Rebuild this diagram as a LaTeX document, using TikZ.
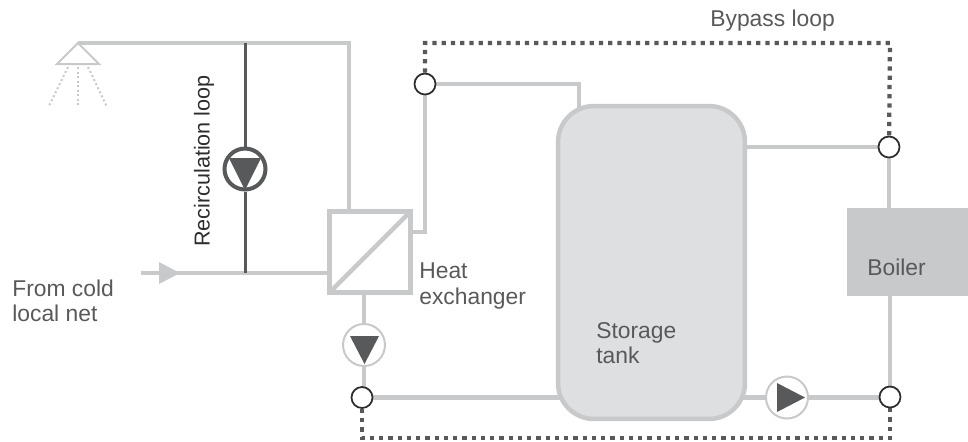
\documentclass[tikz,border=0pt]{standalone}
\usepackage{xcolor}
\usepackage{fontspec}
\setmainfont{Liberation Sans}
\definecolor{pipecolor}{RGB}{200, 201, 203}
\definecolor{darkcolor}{RGB}{88, 89, 91}
\definecolor{tankcolor}{RGB}{222, 223, 225}
\definecolor{ringcolor}{RGB}{45, 45, 45}
\usetikzlibrary{positioning, backgrounds, calc}

\begin{document}
\begin{tikzpicture}[
    x=0.02cm, y=-0.02cm,
    pipe/.style={draw=pipecolor, line width=0.09cm},
    recirc/.style={draw=darkcolor, line width=0.06cm},
    bypass/.style={draw=darkcolor, line width=0.085cm, dash pattern=on 0.085cm off 0.1cm},
    valve/.style={circle, draw=ringcolor, line width=0.035cm, fill=white, minimum size=0.42cm, inner sep=0pt},
    pump/.style={circle, draw=pipecolor, line width=0.04cm, fill=white, minimum size=0.84cm, inner sep=0pt},
    darkpump/.style={pump, draw=darkcolor, line width=0.08cm, minimum size=0.82cm},
    spray/.style={draw=pipecolor, line width=0.04cm, dash pattern=on 0.04cm off 0.05cm},
    label/.style={align=left, anchor=west, inner sep=0pt, text=darkcolor, font=\fontsize{13}{14.4}\selectfont}
]
    \useasboundingbox (0,0) rectangle (968,441);

    % components
    \node[draw=pipecolor, line width=0.09cm, outer sep=0pt, fill=white, minimum size=1.62cm, inner sep=0pt] (hx) at (370,252) {};
    \node[draw=pipecolor, line width=0.09cm, fill=tankcolor, rounded corners=0.72cm, minimum width=3.74cm, minimum height=6.26cm, inner sep=0pt] (tank) at (651.5,262.5) {};
    \node[fill=pipecolor, minimum width=2.42cm, minimum height=1.76cm, inner sep=0pt] (boiler) at (907.5,252) {};

    \node[darkpump] (recircpump) at (245,169) {};
    \node[pump] (hxpump) at (364,345) {};
    \node[pump] (tankpump) at (787,397.5) {};

    \node[valve] (valvetop) at (425,84) {};
    \node[valve] (valveboiler) at (889,147) {};
    \node[valve] (valveleft) at (362,397.5) {};
    \node[valve] (valveright) at (890,397) {};

    \coordinate (shower) at (78,43);
    \coordinate (riser) at (349,43);
    \coordinate (recirctop) at (245,43);
    \coordinate (inlet) at (141,273);
    \coordinate (recircbottom) at (245,273);

    % pump triangles
    \fill[darkcolor] (229,158) -- (261,158) -- (245,190) -- cycle;
    \fill[darkcolor] (350,336) -- (379,336) -- (364.5,364) -- cycle;
    \fill[darkcolor] (777,383) -- (777,412) -- (805,397.5) -- cycle;

    % heat exchanger diagonal
    \draw[pipe] (hx.south west) -- (hx.north east);

    % inlet arrow
    \fill[pipecolor] (159,262) -- (159,284) -- (180,273) -- cycle;

    % shower head
    \draw[draw=pipecolor, line width=0.04cm] (shower) -- (57,64) -- (99,64) -- cycle;
    \draw[spray] (68,67) -- (49,106);
    \draw[spray] (78,67) -- (78,105);
    \draw[spray] (88,67) -- (107,107);

    % pipes
    \begin{scope}[on background layer]
        \draw[pipe] (shower) -- (riser) -- (riser |- hx.north);
        \draw[pipe] (inlet) -- (inlet -| hx.west);
        \draw[pipe] (hx.east |- 0,232) -- (425,232) -- (valvetop);
        \draw[pipe] (valvetop) -- (579,84) -- (579,150);
        \draw[pipe] (hx.south -| hxpump) -- (hxpump);
        \draw[pipe] (hxpump) -- (hxpump |- valveleft);
        \draw[pipe] (valveleft) -- (valveleft -| tank.center);
        \draw[pipe] (tank.center |- valveboiler) -- (valveboiler);
        \draw[pipe] (valveboiler) -- (valveboiler |- boiler.north);
        \draw[pipe] (valveright |- boiler.south) -- (valveright);
        \draw[pipe] (tank.center |- tankpump) -- (tankpump);
        \draw[pipe] (tankpump) -- (tankpump -| valveright);
        \draw[recirc] (recirctop) -- (recircpump);
        \draw[recirc] (recircpump) -- (recircbottom);
        \draw[bypass] (valvetop) -- (425,43) -- (890,43) -- (valveboiler);
        \draw[bypass] (valveleft) -- (362,438) -- (890,438) -- (valveright);
    \end{scope}

    % labels
    \node[label, text=ringcolor, font=\fontsize{12.3}{14}\selectfont, rotate=90, anchor=center] (recirclabel) at (204,161) {Recirculation loop};
    \node[label] (hxlabel) at (419,286) {Heat\\exchanger};
    \node[label] (coldlabel) at (12,300.5) {From cold\\local net};
    \node[label] (tanklabel) at (596,343) {Storage\\tank};
    \node[label] (boilerlabel) at (867,267) {Boiler};
    \node[label] (bypasslabel) at (710,21) {Bypass loop};
\end{tikzpicture}
\end{document}
